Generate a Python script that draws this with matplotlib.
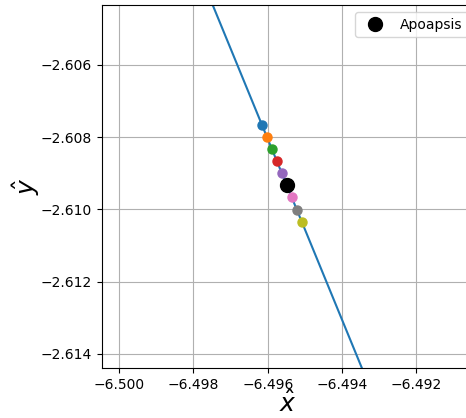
import matplotlib
matplotlib.use('Agg')
import matplotlib.pyplot as plt

# trajectory line (two ends, beyond the view)
line_x = [-6.4980, -6.4930]
line_y = [-2.60304, -2.61557]

# sampled points along the orbit
pts_x = [-6.49616, -6.49602, -6.49589, -6.49575, -6.49562, -6.49549, -6.49535, -6.49522, -6.49508]
pts_y = [-2.60766, -2.60799, -2.60833, -2.60866, -2.60899, -2.60932, -2.60965, -2.61001, -2.61035]

apo_x = -6.49549
apo_y = -2.60932

fig = plt.figure(figsize=(4.66, 4.18), dpi=100)
ax = fig.add_axes([0.218, 0.12, 0.801, 0.868])

ax.plot(line_x, line_y, color='C0')
for i in range(len(pts_x)):
    ax.plot(pts_x[i], pts_y[i], 'o', color='C%d' % i, markersize=6.5)
ax.plot(apo_x, apo_y, 'o', color='black', markersize=10, label='Apoapsis')

ax.set_xlim(-6.50047, -6.49043)
ax.set_ylim(-2.61439, -2.60434)
ax.set_xticks([-6.500, -6.498, -6.496, -6.494, -6.492])
ax.set_yticks([-2.606, -2.608, -2.610, -2.612, -2.614])
ax.grid(True)
ax.set_xlabel(r'$\hat{x}$', fontsize=18, labelpad=-1)
ax.set_ylabel(r'$\hat{y}$', fontsize=18, labelpad=-1)
ax.legend(loc='upper right')

fig.savefig('out.png', dpi=100)
